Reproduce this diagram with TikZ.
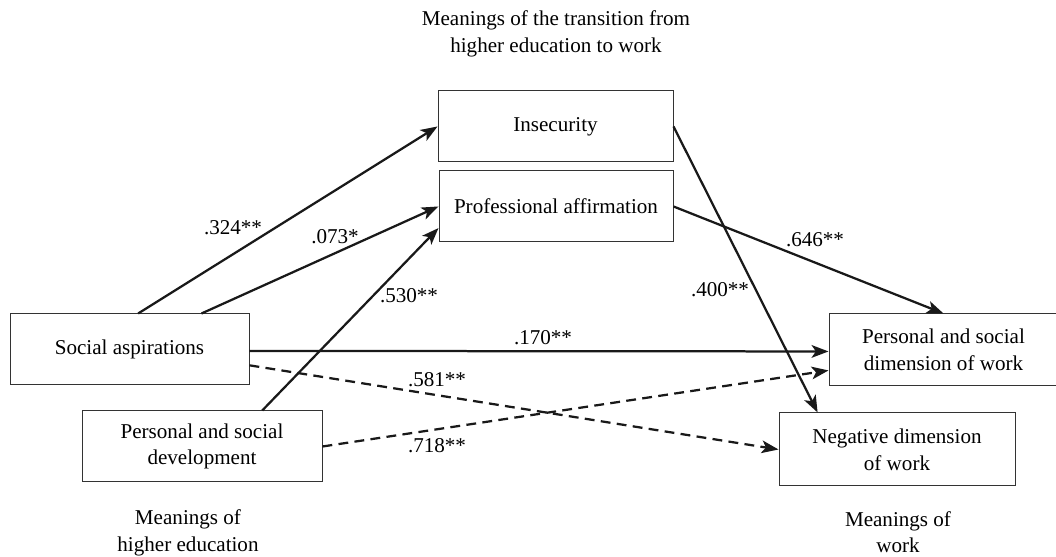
\documentclass[tikz,border=0pt]{standalone}
\usepackage{fontspec}
\setmainfont{Liberation Serif}
\usepackage{tikz}
\usetikzlibrary{positioning,calc,arrows.meta}

\begin{document}
\begin{tikzpicture}
		\tikzset{boxstyle/.style={draw=black!80,line width=0.7pt,rectangle,align=center,inner sep=0pt,font=\fontsize{15}{19}\selectfont}}
		\tikzset{pathedge/.style={-{Stealth[length=12pt,width=9pt,inset=3pt]},line width=1.6pt,black!90}}
		\tikzset{weakedge/.style={pathedge,dash pattern=on 7pt off 4.5pt}}
		\tikzset{coef/.style={font=\fontsize{15}{19}\selectfont,inner sep=1pt}}
		\tikzset{caption/.style={align=center,font=\fontsize{15}{19}\selectfont,inner sep=1pt}}
		
		%\draw[help lines, blue] (0,0) grid (26,14);
		\useasboundingbox (0,0) rectangle (26.4,13.925);
		
		\newcommand\drawBox[6] % {x} {y} {width} {height} {label} {name}
		{
			\node[
			boxstyle,
			minimum width=#3cm,
			minimum height=#4cm
			] at (#1, #2) (#6) {#5};
		}
		
		\drawBox{13.888}{10.763}{5.875}{1.775}{Insecurity}{ins}
		\drawBox{13.9}{8.763}{5.85}{1.775}{Professional affirmation}{pa}
		
		\drawBox{3.2375}{5.1875}{5.975}{1.775}{Social aspirations}{sa}
		\drawBox{5.05}{2.7625}{6.0}{1.775}{Personal and social\\development}{psd}
		
		\drawBox{23.5875}{5.175}{5.725}{1.8}{Personal and social\\dimension of work}{psdw}
		\drawBox{22.425}{2.6875}{5.9}{1.825}{Negative dimension\\of work}{neg}
		
		\node[caption] (captop) at (13.9, 13.075) {Meanings of the transition from\\higher education to work};
		\node[caption] (caphe) at (4.7, 0.6) {Meanings of\\higher education};
		\node[caption] (capwork) at (22.45, 0.62) {Meanings of\\work};
		
		\draw[pathedge]
		($(sa.north west)!0.536!(sa.north east)$) to (ins.west);
		\draw[pathedge]
		($(sa.north west)!0.8!(sa.north east)$) to (pa.west);
		\draw[pathedge]
		($(psd.north west)!0.75!(psd.north east)$) to ($(pa.north west)!0.8!(pa.south west)$);
		\draw[pathedge]
		($(sa.north east)!0.52!(sa.south east)$) to ($(psdw.north west)!0.52!(psdw.south west)$);
		\draw[pathedge]
		(ins.east) to ($(neg.north west)!0.165!(neg.north east)$);
		\draw[pathedge]
		(pa.east) to (psdw.north);
		
		\draw[weakedge]
		($(sa.north east)!0.72!(sa.south east)$) to (neg.west);
		\draw[weakedge]
		(psd.east) to ($(psdw.north west)!0.78!(psdw.south west)$);
		
		\node[coef] (c324) at (5.825, 8.225) {.324**};
		\node[coef] (c073) at (8.375, 8.0) {.073*};
		\node[coef] (c530) at (10.225, 6.525) {.530**};
		\node[coef] (c170) at (13.575, 5.475) {.170**};
		\node[coef] (c581) at (10.925, 4.425) {.581**};
		\node[coef] (c718) at (10.925, 2.775) {.718**};
		\node[coef] (c400) at (18.0, 6.675) {.400**};
		\node[coef] (c646) at (20.375, 7.925) {.646**};
		
\end{tikzpicture}
\end{document}
